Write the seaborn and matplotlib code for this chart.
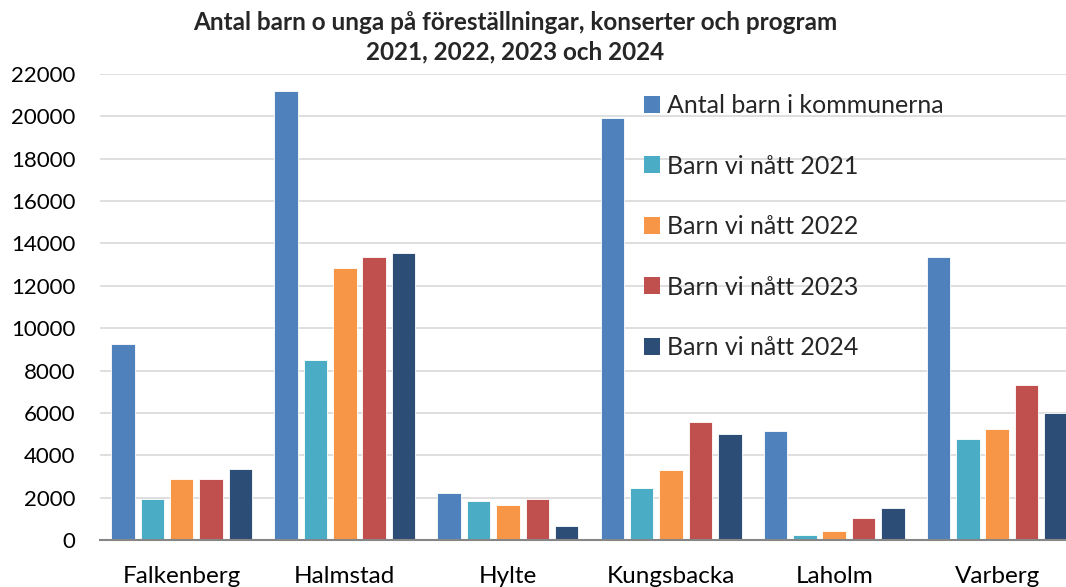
import pandas as pd
import seaborn as sns
import matplotlib.pyplot as plt

# Data
kommuner = ['Falkenberg', 'Halmstad', 'Hylte', 'Kungsbacka', 'Laholm', 'Varberg']
antal_barn = [9230, 21200, 2200, 19900, 5170, 13370]
natt_2021 = [1940, 8480, 1860, 2480, 230, 4750]
natt_2022 = [2860, 12830, 1640, 3290, 420, 5250]
natt_2023 = [2860, 13350, 1960, 5590, 1050, 7300]
natt_2024 = [3370, 13570, 640, 5020, 1490, 5990]

series = ['Antal barn i kommunerna', 'Barn vi nått 2021', 'Barn vi nått 2022',
          'Barn vi nått 2023', 'Barn vi nått 2024']
colors = ['#4F81BD', '#4BACC6', '#F79646', '#C0504D', '#2C4D75']

# Long-form table for seaborn
rows = []
for name, vals in zip(series, [antal_barn, natt_2021, natt_2022, natt_2023, natt_2024]):
    for k, v in zip(kommuner, vals):
        rows.append({'Kommun': k, 'Serie': name, 'Antal': v})
df = pd.DataFrame(rows)

sns.set_theme(style='white')
plt.rcParams['font.family'] = ['Lato', 'DejaVu Sans']

fig = plt.figure(figsize=(10.66, 5.87), dpi=100)
ax = fig.add_axes([0.094, 0.080, 0.918, 0.794])

sns.barplot(data=df, x='Kommun', y='Antal', hue='Serie', hue_order=series,
            palette=colors, width=0.9, gap=0.2, saturation=1,
            edgecolor='white', linewidth=0.6, ax=ax, zorder=3)

ax.set_ylim(0, 22000)
ax.set_yticks(range(0, 22001, 2000))
ax.set_xlim(-0.5, 5.5)
ax.grid(axis='y', color='#D9D9D9', linewidth=1.2, zorder=0)
ax.set_axisbelow(True)
for s in ['top', 'right', 'left']:
    ax.spines[s].set_visible(False)
ax.spines['bottom'].set_color('#868686')
ax.spines['bottom'].set_linewidth(1.5)
ax.spines['bottom'].set_zorder(4)
ax.tick_params(axis='y', length=0, labelsize=16, pad=18, colors='black')
ax.tick_params(axis='x', length=0, labelsize=17.5, pad=19, colors='black')
ax.set_xlabel('')
ax.set_ylabel('')

leg = ax.legend(loc='upper left', bbox_to_anchor=(0.592, 0.861),
                bbox_transform=fig.transFigure, frameon=False, fontsize=18,
                handlelength=0.65, handleheight=0.65, handletextpad=0.3,
                labelspacing=1.50, borderpad=0)
for h in leg.legend_handles:
    h.set_edgecolor('none')

fig.text(0.483, 0.962, 'Antal barn o unga på föreställningar, konserter och program',
         ha='center', va='center', fontsize=17.5, fontweight='bold')
fig.text(0.483, 0.911, '2021, 2022, 2023 och 2024',
         ha='center', va='center', fontsize=17.5, fontweight='bold')

fig.savefig('out.png', dpi=100)
